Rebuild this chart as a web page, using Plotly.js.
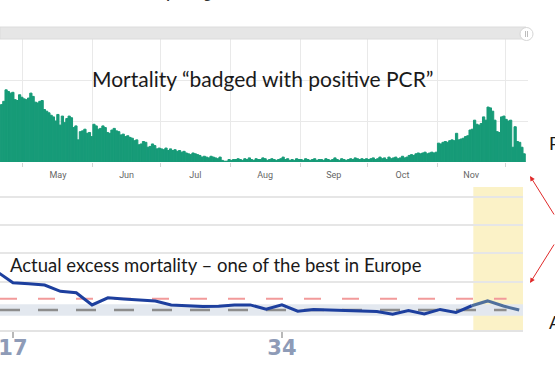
<!DOCTYPE html>
<html>
<head>
<meta charset="utf-8">
<script src="https://cdn.plot.ly/plotly-3.0.1.min.js"></script>
<style>
html,body{margin:0;padding:0;background:#fff;overflow:hidden;}
#chart{width:555px;height:370px;}
</style>
</head>
<body>
<div id="chart"></div>
<script>
// ---- Daily deaths "badged with positive PCR" (2020), one array per month ----
const aprStartDay = 21;
const aprDeaths = [70, 74, 88, 86, 84, 85, 76, 75, 82, 79];
const mayDeaths = [77, 76, 78, 84, 80, 73, 72, 74, 75, 64, 62, 60, 57, 55, 50, 58, 45, 56, 48, 53, 56, 54, 42, 44, 27, 37, 38, 40, 35, 36, 31];
const junDeaths = [46, 44, 40, 41, 44, 42, 36, 35, 39, 41, 38, 37, 33, 34, 31, 32, 30, 29, 26, 27, 21, 22, 25, 24, 18, 19, 22, 20, 16, 17];
const julDeaths = [16, 15, 17, 14, 16, 14, 15, 13, 14, 12, 13, 11, 10, 9, 11, 10, 9, 8, 6, 7, 6, 5, 7, 6, 5, 4, 6, 2, 1, 1, 3];
const augDeaths = [2, 3, 3, 4, 3, 2, 4, 3, 5, 3, 2, 4, 3, 3, 5, 4, 2, 3, 4, 3, 2, 3, 4, 6, 3, 4, 2, 3, 2, 4, 3];
const sepDeaths = [3, 2, 4, 3, 2, 3, 4, 2, 3, 3, 2, 4, 3, 2, 3, 5, 3, 2, 4, 3, 2, 3, 4, 3, 5, 4, 3, 4, 3, 4];
const octDeaths = [3, 4, 5, 3, 4, 6, 4, 5, 3, 6, 4, 5, 6, 4, 5, 7, 5, 6, 8, 9, 8, 10, 11, 10, 11, 12, 10, 11, 12, 11, 12];
const novDeaths = [23, 22, 24, 25, 24, 26, 27, 26, 35, 27, 28, 29, 31, 32, 39, 40, 51, 46, 45, 47, 55, 51, 67, 66, 62, 51, 37, 36, 55, 56];
const decDeaths = [52, 50, 51, 18, 43, 25, 24, 18, 10];

// ---- Weekly excess mortality z-scores (EuroMOMO style) ----
const weeks   = [16, 17, 18, 19, 20, 21, 22, 23, 24, 25, 26, 27, 28, 29, 30, 31, 32, 33, 34, 35, 36, 37, 38, 39, 40, 41, 42, 43, 44, 45, 46, 47, 48, 49];
const zScores = [13.5, 9.6, 9.3, 8.8, 6.6, 6.1, 1.8, 4.3, 3.9, 3.6, 3.2, 1.8, 1.4, 1.2, 1.3, 1.8, 1.8, 0.3, 1.8, -0.4, 0.2, 0.0, -0.2, -0.5, -0.5, -1.5, -0.2, -1.4, 0.2, -0.9, 1.5, 3.2, 1.4, 0.0];
const weekTickVals = [17, 34];
const weekTickText = ['17', '34'];
const recentFromWeek = 46;          // start of shaded (incomplete) period
const recentToWeek = 49.25;
const substantialIncrease = 4;      // red dashed threshold
const baselineZ = 0;                // grey dashed baseline
const normalRange = [-2, 2];        // grey band

// ---- build bar dates ----
function monthDates(month, startDay, vals) {
  return vals.map((v, i) => {
    const d = startDay + i;
    return '2020-' + String(month).padStart(2, '0') + '-' + String(d).padStart(2, '0') + ' 12:00';
  });
}
const months = [
  [4, aprStartDay, aprDeaths], [5, 1, mayDeaths], [6, 1, junDeaths], [7, 1, julDeaths],
  [8, 1, augDeaths], [9, 1, sepDeaths], [10, 1, octDeaths], [11, 1, novDeaths], [12, 1, decDeaths]
];
let barX = [], barY = [];
months.forEach(m => { barX = barX.concat(monthDates(m[0], m[1], m[2])); barY = barY.concat(m[2]); });

const splitIdx = weeks.indexOf(recentFromWeek);
const mainWeeks = weeks.slice(0, splitIdx + 1), mainZ = zScores.slice(0, splitIdx + 1);
const recWeeks = weeks.slice(splitIdx), recZ = zScores.slice(splitIdx);

// pixel -> paper helpers (margins are zero, so paper == canvas)
const W = 555, H = 370;
const px = x => x / W;
const py = y => 1 - y / H;

const barColor = '#179b78';
const traces = [
  {type: 'bar', x: barX, y: barY, xaxis: 'x', yaxis: 'y',
   marker: {color: barColor, line: {color: barColor, width: 1}}, hoverinfo: 'skip'},
  {type: 'scatter', mode: 'lines', x: mainWeeks, y: mainZ, xaxis: 'x2', yaxis: 'y2',
   line: {color: '#1d3f9e', width: 3}, hoverinfo: 'skip'},
  {type: 'scatter', mode: 'lines', x: recWeeks, y: recZ, xaxis: 'x2', yaxis: 'y2',
   line: {color: '#50709c', width: 3}, hoverinfo: 'skip'}
];

const shapes = [
  // scroll bar of the screenshot
  {type: 'rect', xref: 'paper', yref: 'paper', x0: 0, x1: px(526), y0: py(39), y1: py(27),
   fillcolor: '#e6e6e6', line: {color: '#dcdcdc', width: 1}, layer: 'above'},
  {type: 'circle', xref: 'paper', yref: 'paper', x0: px(520), x1: px(533), y0: py(40.5), y1: py(27.5),
   fillcolor: '#ffffff', line: {color: '#d6d6d6', width: 1}, layer: 'above'},
  {type: 'line', xref: 'paper', yref: 'paper', x0: px(525.5), x1: px(525.5), y0: py(37), y1: py(31),
   line: {color: '#bdbdbd', width: 1}, layer: 'above'},
  {type: 'line', xref: 'paper', yref: 'paper', x0: px(527.5), x1: px(527.5), y0: py(37), y1: py(31),
   line: {color: '#bdbdbd', width: 1}, layer: 'above'},
  // normal-range band
  {type: 'rect', xref: 'x2', yref: 'y2', x0: 16.18, x1: recentToWeek, y0: normalRange[0], y1: normalRange[1],
   fillcolor: '#e3e8ef', line: {width: 0}, layer: 'below'},
  // shaded recent weeks
  {type: 'rect', xref: 'x2', yref: 'paper', x0: recentFromWeek + 0.1, x1: recentToWeek, y0: py(330), y1: py(187),
   fillcolor: 'rgba(250,238,180,0.75)', line: {width: 0}, layer: 'below'},
  // substantial increase line
  {type: 'line', xref: 'x2', yref: 'y2', x0: 16.18, x1: 48.2, y0: substantialIncrease, y1: substantialIncrease,
   line: {color: '#f29a9a', width: 2, dash: '17px,21px'}, layer: 'below'},
  // baseline
  {type: 'line', xref: 'x2', yref: 'y2', x0: 16.18, x1: 48.2, y0: baselineZ, y1: baselineZ,
   line: {color: '#8d8d8d', width: 2.5, dash: '20px,18px'}, layer: 'below'}
];

const annotations = [
  {xref: 'paper', yref: 'paper', x: px(164), y: py(4), xanchor: 'center', yanchor: 'bottom',
   text: '<b>Avlidna per dag</b>', showarrow: false, font: {family: 'Open Sans', size: 12, color: '#333'}},
  {xref: 'paper', yref: 'paper', x: px(262), y: py(78), xanchor: 'center', yanchor: 'middle',
   text: 'Mortality “badged with positive PCR”', showarrow: false,
   font: {family: 'Lato', size: 21, color: '#1a1a1a'}},
  {xref: 'paper', yref: 'paper', x: px(8), y: py(265), xanchor: 'left', yanchor: 'middle',
   text: 'Actual excess mortality – one of the best in Europe', showarrow: false,
   font: {family: 'Lato', size: 18.5, color: '#1a1a1a'}},
  {xref: 'paper', yref: 'paper', x: px(547), y: py(143), xanchor: 'left', yanchor: 'middle',
   text: 'P', showarrow: false, font: {family: 'Lato', size: 18, color: '#1a1a1a'}},
  {xref: 'paper', yref: 'paper', x: px(547), y: py(322), xanchor: 'left', yanchor: 'middle',
   text: 'A', showarrow: false, font: {family: 'Lato', size: 18, color: '#1a1a1a'}},
  {xref: 'paper', yref: 'paper', x: px(530), y: py(176), text: '', showarrow: true,
   arrowhead: 2, arrowsize: 1, arrowwidth: 1, arrowcolor: '#e02a2a', ax: 35, ay: 40},
  {xref: 'paper', yref: 'paper', x: px(530), y: py(283), text: '', showarrow: true,
   arrowhead: 2, arrowsize: 1, arrowwidth: 1, arrowcolor: '#e02a2a', ax: 35, ay: -40}
];

const layout = {
  width: W, height: H,
  margin: {l: 0, r: 0, t: 0, b: 0, pad: 0},
  paper_bgcolor: '#ffffff', plot_bgcolor: 'rgba(0,0,0,0)',
  showlegend: false, bargap: 0,
  xaxis: {type: 'date', anchor: 'y', domain: [0, px(528)],
          range: ['2020-04-20 19:00', '2020-12-11 05:00'],
          dtick: 'M1', tick0: '2020-01-01', ticklabelmode: 'period', tickformat: '%b',
          ticks: 'outside', ticklen: 4, tickcolor: '#d4d4d4',
          showgrid: true, gridcolor: '#e9e9e9', gridwidth: 1, zeroline: false, showline: false,
          tickfont: {family: 'Roboto', size: 9, color: '#666'}},
  yaxis: {anchor: 'x', domain: [py(162), py(39)], range: [0, 150], tickvals: [0, 50, 100, 150],
          showticklabels: false, showgrid: true, gridcolor: '#e9e9e9', zeroline: false, ticks: ''},
  xaxis2: {anchor: 'y2', domain: [0, px(523)], range: [16.18, 49.24],
           tickvals: weekTickVals, ticktext: weekTickText.map(t => '<b>' + t + '</b>'),
           ticks: 'outside', ticklen: 6, tickcolor: '#b8b8b8', tickwidth: 1.5,
           ticklabeloverflow: 'allow', ticklabelstandoff: -8,
           showgrid: false, zeroline: false, showline: true, linecolor: '#e3e3e3', linewidth: 2,
           tickfont: {family: 'DejaVu Sans', size: 21, color: '#8e9bb7'}},
  yaxis2: {anchor: 'x2', domain: [py(330), py(187)], range: [-7.07, 43.46], tickvals: [10, 20, 30, 40],
           showticklabels: false, showgrid: true, gridcolor: '#e6e6e6', gridwidth: 2, zeroline: false, ticks: ''},
  shapes: shapes,
  annotations: annotations
};

Plotly.newPlot('chart', traces, layout, {staticPlot: true, displayModeBar: false});
</script>
</body>
</html>
